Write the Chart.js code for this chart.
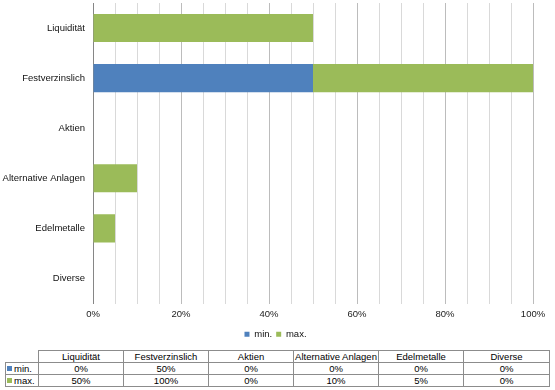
<!DOCTYPE html>
<html>
<head>
<meta charset="utf-8">
<script src="https://cdn.jsdelivr.net/npm/chart.js@4/dist/chart.umd.min.js"></script>
<style>
  html, body { margin: 0; padding: 0; background: #fff; }
  #wrap { position: relative; width: 555px; height: 390px; overflow: hidden; }
  #c { position: absolute; left: 0; top: 0; }
  #tbl { position: absolute; left: 5px; top: 350px; border-collapse: collapse; table-layout: fixed;
         font-family: "Liberation Sans", Arial, sans-serif; font-size: 9.5px; color: #000; }
  #tbl td { border: 1px solid #8c8c8c; height: 11px; line-height: 11px; padding: 0; text-align: center; white-space: nowrap; overflow: hidden; }
  #tbl td.corner { border-top: none; border-left: none; }
  #tbl td.lab { text-align: left; padding-left: 1px; }
  .mk { display: inline-block; width: 5px; height: 5px; margin-right: 2px; vertical-align: 1px; }
</style>
</head>
<body>
<div id="wrap">
  <canvas id="c" width="555" height="349"></canvas>
  <table id="tbl"></table>
</div>
<script>
const categories = ["Liquidität", "Festverzinslich", "Aktien", "Alternative Anlagen", "Edelmetalle", "Diverse"];
const seriesNames = ["min.", "max."];
const minValues = [0, 50, 0, 0, 0, 0];
const maxValues = [50, 100, 0, 10, 5, 0];
const xTickValues = [0, 20, 40, 60, 80, 100];
const colors = ["#4F81BD", "#9BBB59"];

// Data table (HTML, real text)
const tbl = document.getElementById('tbl');
const colW = [33, 85, 85, 85, 85, 85, 86];
let cg = '<colgroup>' + colW.map(w => `<col style="width:${w}px">`).join('') + '</colgroup>';
let html = cg + '<tr><td class="corner"></td>' + categories.map(c => `<td>${c}</td>`).join('') + '</tr>';
[minValues, maxValues].forEach((arr, i) => {
  html += `<tr><td class="lab"><span class="mk" style="background:${colors[i]}"></span>${seriesNames[i]}</td>` +
    arr.map(v => `<td>${v}%</td>`).join('') + '</tr>';
});
tbl.innerHTML = html;
tbl.style.width = colW.reduce((a, b) => a + b, 0) + 'px';

const fontFam = '"Liberation Sans", Arial, sans-serif';

const legendShift = {
  id: 'legendShift',
  afterLayout(chart) {
    if (chart.legend) { chart.legend.left += 9; chart.legend.right += 9; }
  }
};

new Chart(document.getElementById('c'), {
  type: 'bar',
  data: {
    labels: categories,
    datasets: [
      {
        label: seriesNames[0],
        data: minValues,
        backgroundColor: colors[0],
        grouped: false,
        categoryPercentage: 0.8,
        barPercentage: 0.7,
        borderWidth: 0
      },
      {
        label: seriesNames[1],
        data: categories.map((c, i) => [minValues[i], maxValues[i]]),
        backgroundColor: colors[1],
        grouped: false,
        categoryPercentage: 0.8,
        barPercentage: 0.7,
        borderWidth: 0
      }
    ]
  },
  plugins: [legendShift],
  options: {
    indexAxis: 'y',
    responsive: false,
    animation: false,
    layout: { padding: { top: 3, right: 22, left: 0, bottom: 0 } },
    plugins: {
      legend: {
        position: 'bottom',
        labels: {
          boxWidth: 5,
          boxHeight: 5,
          padding: 4,
          color: '#111',
          font: { family: fontFam, size: 9.5 }
        }
      },
      tooltip: { enabled: false }
    },
    scales: {
      x: {
        min: 0,
        max: 100,
        afterFit: s => { s.height = 22; s.paddingLeft = 0; s.paddingRight = 0; },
        afterBuildTicks: s => {
          const t = [];
          for (let v = 0; v <= 100; v += 5) t.push({ value: v });
          s.ticks = t;
        },
        ticks: {
          autoSkip: false,
          maxRotation: 0,
          padding: 5,
          color: '#222',
          font: { family: fontFam, size: 9.5 },
          callback: v => xTickValues.includes(v) ? v + '%' : ''
        },
        grid: {
          drawTicks: false,
          lineWidth: 1,
          color: ctx => {
            const v = ctx.tick ? ctx.tick.value : 0;
            if (v === 0) return 'rgba(0,0,0,0)';
            return (v % 20 === 0) ? '#bcbcbc' : '#d9d9d9';
          }
        },
        border: { display: false }
      },
      y: {
        afterFit: s => { s.width = 93; s.paddingTop = 0; s.paddingBottom = 0; },
        ticks: {
          padding: 8,
          color: '#111',
          font: { family: fontFam, size: 9.5 }
        },
        grid: { display: false, drawTicks: false },
        border: { display: true, color: '#868686', width: 1 }
      }
    }
  }
});
</script>
</body>
</html>
